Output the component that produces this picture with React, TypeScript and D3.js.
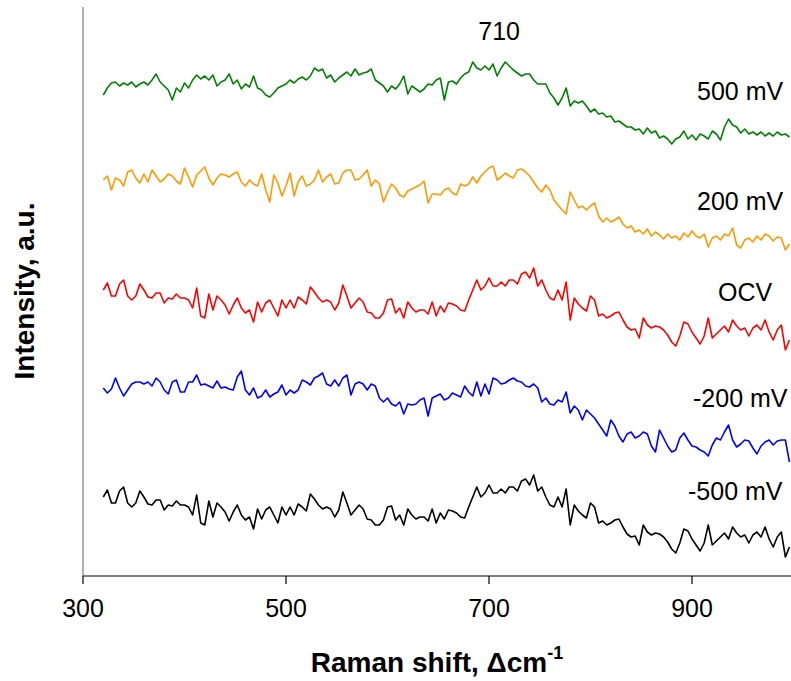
import React from "react";
import * as d3 from "d3";

// Raman shift sampling grid (cm-1)
const WAVENUMBERS: number[] = d3.range(320, 1000, 4);

const SERIES_NAMES = ["500 mV", "200 mV", "OCV", "-200 mV", "-500 mV"];
const SERIES_COLORS = ["#008000", "#FF9900", "#FF0000", "#0000FF", "#000000"];
const SERIES_OFFSETS = [426, 316, 216, 106, 9];

const I_500 = [
  55,62,67,68,64,67,65,68,63,66,
  68,65,70,76,68,64,60,50,62,58,
  67,62,70,75,71,74,70,75,64,68,
  70,76,66,70,61,66,63,74,62,60,
  55,53,57,62,64,66,70,67,71,73,
  70,74,82,79,81,72,75,68,72,75,
  78,74,81,75,77,78,81,70,67,64,
  58,64,61,66,74,56,64,61,58,61,
  66,65,70,72,50,68,69,66,72,76,
  78,88,82,80,84,80,86,74,82,88,
  84,80,77,74,76,76,70,66,66,66,
  57,52,45,52,62,44,49,47,49,44,
  38,41,36,37,33,34,28,29,26,23,
  23,20,21,16,22,17,19,12,14,11,
  6,11,13,19,11,15,10,16,14,11,
  19,16,10,23,31,25,23,17,21,16,
  18,15,18,14,17,14,18,15,16,13,
];

const I_200 = [
  80,84,70,82,80,74,88,90,82,77,
  86,78,90,84,78,81,86,84,79,76,
  92,83,73,85,89,93,82,75,82,86,
  85,83,86,88,78,74,80,76,74,86,
  70,58,85,77,64,74,87,64,78,84,
  74,76,80,90,78,83,86,76,77,87,
  90,90,80,81,85,90,74,80,76,58,
  68,76,72,65,63,69,71,73,75,79,
  57,66,66,65,70,72,67,65,76,74,
  76,83,77,84,88,92,94,80,83,87,
  84,82,90,91,88,84,78,72,68,75,
  70,60,55,50,46,68,60,52,54,50,
  54,57,44,38,42,38,40,43,36,32,
  34,28,30,26,31,24,28,25,21,26,
  22,24,20,27,23,29,24,22,26,13,
  22,24,20,26,24,32,15,12,20,22,
  18,24,20,26,24,19,23,22,10,16,
];

const I_OCV = [
  70,77,64,64,76,80,64,60,64,76,
  70,63,62,67,67,57,62,61,66,62,
  62,60,52,72,44,42,66,50,64,60,
  55,46,55,62,52,47,50,38,58,48,
  57,60,52,44,60,52,60,52,63,60,
  56,73,68,62,58,60,58,50,57,75,
  64,52,57,62,58,48,47,42,42,47,
  60,61,47,52,42,58,52,48,50,50,
  46,58,44,54,48,57,56,54,50,49,
  60,70,80,70,74,82,74,74,78,74,
  80,80,76,86,88,82,92,74,80,70,
  62,60,70,60,78,40,62,56,52,49,
  64,60,44,46,42,44,47,48,40,33,
  30,31,22,42,35,32,34,33,30,25,
  18,14,24,38,36,28,22,16,24,42,
  22,26,30,34,28,40,34,30,32,24,
  32,35,30,40,28,20,30,35,10,20,
];

const I_M200 = [
  82,77,81,92,82,74,80,86,88,88,
  86,88,84,92,88,80,76,88,90,78,
  78,88,88,95,85,86,84,82,89,82,
  83,81,80,93,99,80,75,82,72,74,
  80,73,76,78,85,75,80,77,80,90,
  88,85,92,94,97,86,84,90,84,92,
  95,75,86,88,86,80,86,84,72,68,
  72,66,64,68,56,66,65,66,70,72,
  54,72,74,76,70,72,77,75,73,84,
  78,74,88,74,86,76,92,90,86,87,
  90,92,89,88,84,83,86,82,68,72,
  66,65,70,68,78,57,64,60,50,60,
  56,52,46,40,34,50,44,34,28,36,
  38,32,34,38,36,24,18,40,32,24,
  18,20,32,37,30,24,23,20,18,14,
  25,32,30,38,45,30,23,26,30,29,
  22,16,24,28,30,25,29,30,30,8,
];

const I_M500 = [
  70,77,64,64,76,80,64,60,64,76,
  70,63,62,67,67,57,62,61,66,62,
  62,60,52,72,44,42,66,50,64,60,
  55,46,55,62,52,47,50,38,58,48,
  57,60,52,44,60,52,60,52,63,60,
  56,73,68,62,58,60,58,50,57,75,
  64,52,57,62,58,48,47,42,42,47,
  60,61,47,52,42,58,52,48,50,50,
  46,58,44,54,48,57,56,54,50,49,
  60,70,80,70,74,82,74,74,78,74,
  80,80,76,86,88,82,92,76,80,70,
  62,60,70,60,78,42,62,56,52,49,
  64,60,44,46,42,44,47,48,40,33,
  30,31,22,42,35,32,34,33,30,25,
  18,14,24,38,36,28,22,16,24,42,
  22,26,30,34,28,40,34,30,32,24,
  32,35,30,40,28,20,30,35,10,20,
];

const SERIES_VALUES = [I_500, I_200, I_OCV, I_M200, I_M500];

const X_TICKS = [300, 500, 700, 900];
const PEAK_LABEL = "710";

const W = 791;
const H = 681;
const FONT = "'Liberation Sans', Arial, Helvetica, sans-serif";

export default function App() {
  const x = d3.scaleLinear().domain([300, 1000]).range([83, 793.5]);
  const y = d3.scaleLinear().domain([0, 570]).range([576, 6]);

  const line = d3
    .line<[number, number]>()
    .x((d) => x(d[0]))
    .y((d) => y(d[1]));

  const labelPos = [
    { x: 697, y: 100 },
    { x: 697, y: 210 },
    { x: 718, y: 301 },
    { x: 693, y: 407 },
    { x: 688, y: 500 },
  ];

  return (
    <svg
      width={W}
      height={H}
      style={{ position: "absolute", left: 0, top: 0, background: "#fff" }}
      fontFamily={FONT}
    >
      <rect x={0} y={0} width={W} height={H} fill="#fff" />
      {SERIES_VALUES.map((vals, si) => {
        const pts: [number, number][] = vals.map((v, i) => [
          WAVENUMBERS[i],
          v + SERIES_OFFSETS[si],
        ]);
        return (
          <path
            key={si}
            d={line(pts) || ""}
            fill="none"
            stroke={SERIES_COLORS[si]}
            strokeWidth={1.6}
            strokeLinejoin="round"
          />
        );
      })}
      {/* axes */}
      <line x1={83} y1={7} x2={83} y2={576} stroke="#808080" strokeWidth={1.2} />
      <line x1={83} y1={576} x2={W} y2={576} stroke="#000" strokeWidth={1.2} />
      {X_TICKS.map((t) => (
        <g key={t}>
          <line x1={x(t)} x2={x(t)} y1={576} y2={584} stroke="#000" strokeWidth={1.2} />
          <text x={x(t)} y={617} textAnchor="middle" fontSize={25} fill="#000">
            {t}
          </text>
        </g>
      ))}
      {/* series labels */}
      {SERIES_NAMES.map((n, i) => (
        <text key={n} x={labelPos[i].x} y={labelPos[i].y} fontSize={25} fill="#000">
          {n}
        </text>
      ))}
      <text x={x(710)} y={40} textAnchor="middle" fontSize={25} fill="#000">
        {PEAK_LABEL}
      </text>
      {/* axis titles */}
      <text
        transform="translate(34,291) rotate(-90)"
        textAnchor="middle"
        fontSize={28}
        fontWeight="bold"
        fill="#000"
      >
        Intensity, a.u.
      </text>
      <text x={437} y={672} textAnchor="middle" fontSize={28} fontWeight="bold" fill="#000">
        Raman shift, Δcm
        <tspan dy={-13} fontSize={18}>-1</tspan>
      </text>
    </svg>
  );
}
